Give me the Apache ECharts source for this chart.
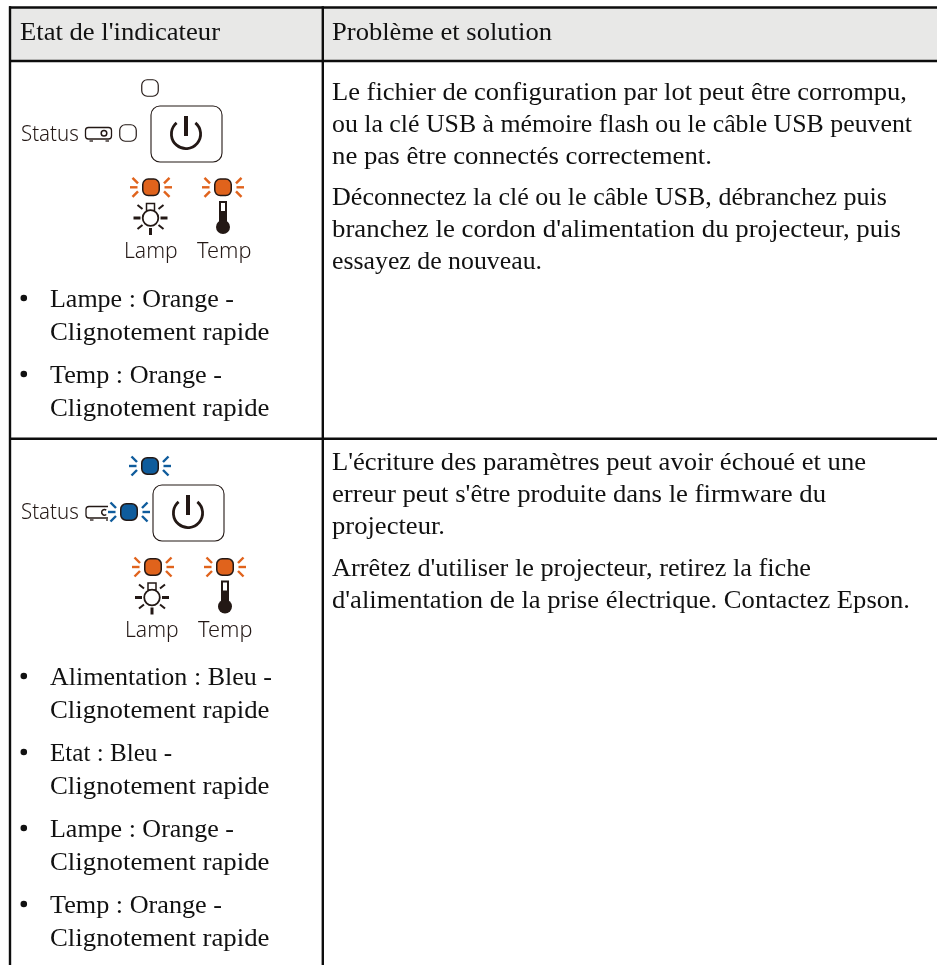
<!DOCTYPE html>
<html>
<head>
<meta charset="utf-8">
<style>
  html, body { margin: 0; padding: 0; background: #fff; }
  #chart { width: 937px; height: 965px; }
</style>
<script src="https://cdn.jsdelivr.net/npm/echarts@6/dist/echarts.min.js"></script>
</head>
<body>
<div id="chart"></div>
<script>
// table content
const headers = ["Etat de l'indicateur", 'Problème et solution'];
const row1Solution = [
  ['Le fichier de configuration par lot peut être corrompu,',
   'ou la clé USB à mémoire flash ou le câble USB peuvent',
   'ne pas être connectés correctement.'],
  ['Déconnectez la clé ou le câble USB, débranchez puis',
   "branchez le cordon d'alimentation du projecteur, puis",
   'essayez de nouveau.']
];
const row2Solution = [
  ["L'écriture des paramètres peut avoir échoué et une",
   "erreur peut s'être produite dans le firmware du",
   'projecteur.'],
  ["Arrêtez d'utiliser le projecteur, retirez la fiche",
   "d'alimentation de la prise électrique. Contactez Epson."]
];
const row1States = [
  ['Lampe : Orange -', 'Clignotement rapide'],
  ['Temp : Orange -', 'Clignotement rapide']
];
const row2States = [
  ['Alimentation : Bleu -', 'Clignotement rapide'],
  ['Etat : Bleu -', 'Clignotement rapide'],
  ['Lampe : Orange -', 'Clignotement rapide'],
  ['Temp : Orange -', 'Clignotement rapide']
];
const panelLabels = ['Status', 'Lamp', 'Temp'];

// where each line ends in the reference, the stand-in font runs a bit different
const lineEnds = {
  "Etat de l'indicateur": 220,
  'Problème et solution': 552,
  'Le fichier de configuration par lot peut être corrompu,': 907,
  'ou la clé USB à mémoire flash ou le câble USB peuvent': 912,
  'ne pas être connectés correctement.': 712,
  'Déconnectez la clé ou le câble USB, débranchez puis': 887,
  "branchez le cordon d'alimentation du projecteur, puis": 901,
  'essayez de nouveau.': 542,
  "L'écriture des paramètres peut avoir échoué et une": 866,
  "erreur peut s'être produite dans le firmware du": 826,
  'projecteur.': 445,
  "Arrêtez d'utiliser le projecteur, retirez la fiche": 811,
  "d'alimentation de la prise électrique. Contactez Epson.": 910,
  'Lampe : Orange -': 234,
  'Temp : Orange -': 222,
  'Alimentation : Bleu -': 272,
  'Etat : Bleu -': 172,
  'Clignotement rapide': 269.5
};

const INK = '#231815';
const ORANGE = '#e0631c';
const BLUE = '#0f5c9c';
const SERIF = '"Liberation Serif", serif';
const SANS = '"Noto Sans", sans-serif';
const BODY_FONT = '26px ' + SERIF;

const els = [];
const measure = document.createElement('canvas').getContext('2d');

const line = (x1, y1, x2, y2, w, color, cap) => els.push({
  type: 'line', silent: true,
  shape: { x1, y1, x2, y2 },
  style: { stroke: color, lineWidth: w, lineCap: cap || 'butt' }
});
const box = (x, y, width, height, r, fill, stroke, lw) => els.push({
  type: 'rect', silent: true,
  shape: { x, y, width, height, r },
  style: { fill: fill || 'transparent', stroke: stroke || 'transparent', lineWidth: lw || 0 }
});
// serif body text, squeezed or stretched to end where the reference line ends
const bodyText = (text, x, y) => {
  measure.font = BODY_FONT;
  const scaleX = (lineEnds[text] - x) / measure.measureText(text).width;
  els.push({
    type: 'text', silent: true, x, y: y - 7, scaleX,
    style: { text, fill: '#111', font: BODY_FONT, verticalAlign: 'middle', align: 'left' }
  });
};
const panelText = (text, x, y, scaleX) => els.push({
  type: 'text', silent: true, x, y: y - 7.5, scaleX,
  style: { text, fill: INK, font: '300 21.5px ' + SANS, verticalAlign: 'middle', align: 'left' }
});

// indicator with optional blink rays
const led = (cx, cy, fill) => {
  if (fill) {
    [-1, 1].forEach(s => {
      line(cx + s * 13.5, cy, cx + s * 21, cy, 2.4, fill);
      line(cx + s * 13, cy - 4, cx + s * 18.5, cy - 9.5, 2.4, fill);
      line(cx + s * 13, cy + 4, cx + s * 18.5, cy + 9.5, 2.4, fill);
    });
  }
  box(cx - 8.25, cy - 8.25, 16.5, 16.5, 5.5, fill || '#fff', INK, fill ? 1.5 : 1.2);
};

const powerButton = (x, y) => {
  box(x, y, 71, 56, 9, '#fff', INK, 1.1);
  const cx = x + 35, cy = y + 28;
  els.push({
    type: 'arc', silent: true,
    shape: { cx, cy, r: 14.6, startAngle: -50 * Math.PI / 180, endAngle: 230 * Math.PI / 180, clockwise: true },
    style: { stroke: INK, fill: 'transparent', lineWidth: 2.8, lineCap: 'butt' }
  });
  line(cx, cy - 18, cx, cy + 2, 4, INK);
};

const lampIcon = (cx, cy) => {
  box(cx - 4, cy - 14.5, 8, 7, 0, '#fff', INK, 1.5);
  els.push({
    type: 'circle', silent: true,
    shape: { cx, cy, r: 7.8 },
    style: { fill: '#fff', stroke: INK, lineWidth: 1.8 }
  });
  line(cx - 17, cy, cx - 10, cy, 3, INK);
  line(cx + 10, cy, cx + 17, cy, 3, INK);
  line(cx, cy + 10, cx, cy + 17, 3, INK);
  [-1, 1].forEach(s => {
    line(cx + s * 8, cy - 9, cx + s * 13, cy - 13, 2, INK);
    line(cx + s * 8, cy + 7, cx + s * 13, cy + 11, 2, INK);
  });
};

const tempIcon = (cx, cy) => {
  box(cx - 3, cy - 16, 6, 24, 0, '#fff', INK, 2);
  box(cx - 3, cy - 6, 6, 14, 0, INK, INK, 2);
  els.push({
    type: 'circle', silent: true,
    shape: { cx, cy: cy + 9, r: 7 },
    style: { fill: INK }
  });
};

const projector = (x, y, blink) => {
  box(x, y, 26, 11.5, 3, '#fff', INK, 1.3);
  line(x + 4, y + 13.5, x + 7.5, y + 13.5, 1.3, INK);
  line(x + 20, y + 13.5, x + 23.5, y + 13.5, 1.3, INK);
  if (blink) {
    box(x + 22, y - 2, 8, 18, 0, '#fff');
    els.push({
      type: 'arc', silent: true,
      shape: { cx: x + 18.5, cy: y + 5.8, r: 2.8, startAngle: 0.9, endAngle: -0.9, clockwise: true },
      style: { stroke: INK, fill: 'transparent', lineWidth: 1.5 }
    });
  } else {
    els.push({
      type: 'circle', silent: true,
      shape: { cx: x + 18.5, cy: y + 5.8, r: 2.8 },
      style: { fill: '#fff', stroke: INK, lineWidth: 1.5 }
    });
  }
};

const states = (list, firstBaseline) => {
  list.forEach((pair, i) => {
    const y = firstBaseline + i * 76;
    els.push({
      type: 'circle', silent: true,
      shape: { cx: 23.8, cy: y - 9, r: 3.3 },
      style: { fill: '#111' }
    });
    pair.forEach((t, j) => bodyText(t, 50, y + j * 32.7));
  });
};

const solution = (paragraphs, firstBaseline, gap) => {
  let y = firstBaseline;
  paragraphs.forEach(lines => {
    lines.forEach(t => { bodyText(t, 332, y); y += 32; });
    y += gap;
  });
};

// header band and grid
box(10, 7.5, 927, 53.5, 0, '#e8e8e7');
[7.5, 61, 438.8].forEach(y => line(9, y, 937, y, 2.4, '#0d0d0d'));
[10, 322.8].forEach(x => line(x, 6.3, x, 965, 2.4, '#0d0d0d'));
bodyText(headers[0], 20, 40);
bodyText(headers[1], 332, 40);

// row 1 panel
led(150, 88);
panelText(panelLabels[0], 21, 142, 0.95);
projector(85.5, 127.5, false);
led(128, 133);
powerButton(151, 106);
led(151, 187.3, ORANGE);
led(223, 187.3, ORANGE);
lampIcon(150.5, 218);
tempIcon(223, 218);
panelText(panelLabels[1], 124, 259.5, 0.98);
panelText(panelLabels[2], 197, 259.5, 1.01);
states(row1States, 307);
solution(row1Solution, 100, 9.5);

// row 2 panel
led(150, 466, BLUE);
panelText(panelLabels[0], 21, 520, 0.95);
projector(86, 506.5, true);
led(129, 512, BLUE);
powerButton(153, 485);
led(153, 567, ORANGE);
led(225, 567, ORANGE);
lampIcon(152, 597.5);
tempIcon(225, 597.5);
panelText(panelLabels[1], 125, 638, 0.98);
panelText(panelLabels[2], 198, 638, 1.01);
states(row2States, 685);
solution(row2Solution, 470, 10);

const chart = echarts.init(document.getElementById('chart'));
chart.setOption({ animation: false, backgroundColor: '#fff', graphic: { elements: els } });
</script>
</body>
</html>
